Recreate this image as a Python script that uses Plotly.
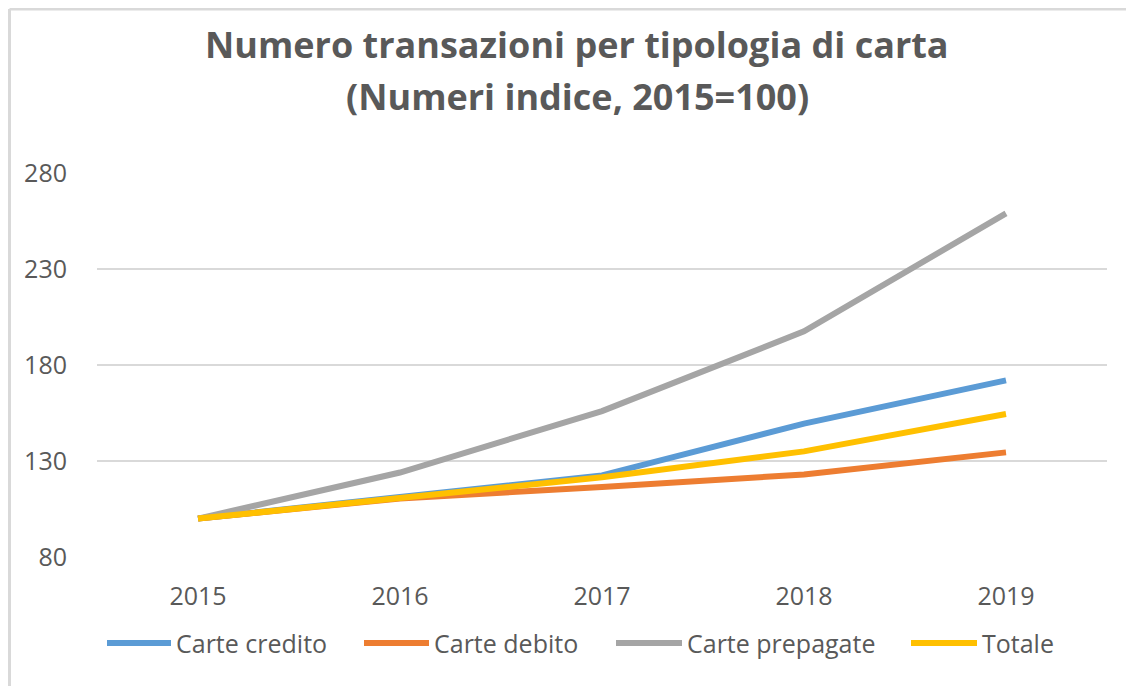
import plotly.graph_objects as go

anni = ["2015", "2016", "2017", "2018", "2019"]
carte_credito = [100, 111, 122.5, 149.5, 172]
carte_debito = [100, 110.5, 116.5, 123, 134.5]
carte_prepagate = [100, 124, 156, 197.5, 259]
totale = [100, 111, 121.5, 135, 154.5]

serie = [
    ("Carte credito", carte_credito, "#5B9BD5"),
    ("Carte debito", carte_debito, "#ED7D31"),
    ("Carte prepagate", carte_prepagate, "#A5A5A5"),
    ("Totale", totale, "#FFC000"),
]

TXT = "#595959"
FONT = "Open Sans"

fig = go.Figure()
for nome, valori, colore in serie:
    fig.add_trace(go.Scatter(
        x=anni, y=valori, name=nome, mode="lines",
        line=dict(color=colore, width=6), showlegend=False,
    ))

# page body has an 8px margin: figure drawn at (8, 8)
OFF = 8
W, H = 1126, 678
L, R, T, B = 89, 27, 165, 129
pw, ph = W - L - R, H - T - B

def px(x):  # screen x -> paper
    return (x - OFF - L) / pw

def py(y):  # screen y -> paper
    return (H - B - (y - OFF)) / ph

# custom legend (screen positions of the legend keys)
legend_keys = [(107, 171), (364, 429), (616, 682), (911, 977)]
legend_y = 643

annotations = [
    dict(text="<b>Numero transazioni per tipologia di carta</b>", x=px(577), y=py(44),
         xref="paper", yref="paper", showarrow=False, xanchor="center", yanchor="middle",
         font=dict(family=FONT, size=36, color=TXT)),
    dict(text="<b>(Numeri indice, 2015=100)</b>", x=px(577), y=py(96),
         xref="paper", yref="paper", showarrow=False, xanchor="center", yanchor="middle",
         font=dict(family=FONT, size=36, color=TXT)),
]
shapes = [
    dict(type="line", xref="paper", yref="paper", x0=px(9.5), x1=px(W + OFF), y0=py(9), y1=py(9),
         line=dict(color="#D9D9D9", width=3)),
    dict(type="line", xref="paper", yref="paper", x0=px(9.5), x1=px(9.5), y0=py(9), y1=py(H + OFF),
         line=dict(color="#D9D9D9", width=3)),
]
for (nome, _, colore), (x0, x1) in zip(serie, legend_keys):
    shapes.append(dict(type="line", xref="paper", yref="paper", x0=px(x0), x1=px(x1),
                       y0=py(legend_y), y1=py(legend_y), line=dict(color=colore, width=6)))
    annotations.append(dict(text=nome, x=px(x1 + 3), y=py(legend_y), xref="paper", yref="paper",
                            showarrow=False, xanchor="left", yanchor="middle",
                            font=dict(family=FONT, size=25, color=TXT)))

fig.update_layout(
    width=W, height=H,
    margin=dict(l=L, r=R, t=T, b=B),
    paper_bgcolor="white", plot_bgcolor="white",
    font=dict(family=FONT, color=TXT, size=25),
    xaxis=dict(
        type="category", range=[-0.5, 4.5], showgrid=False, zeroline=False,
        showline=False, ticks="outside", ticklen=17, tickcolor="rgba(0,0,0,0)",
        tickfont=dict(family=FONT, size=25, color=TXT),
    ),
    yaxis=dict(
        range=[80, 280], tickvals=[80, 130, 180, 230, 280], showgrid=True,
        gridcolor="#D9D9D9", gridwidth=2, zeroline=False, showline=False,
        ticks="outside", ticklen=24, tickcolor="rgba(0,0,0,0)",
        tickfont=dict(family=FONT, size=25, color=TXT),
    ),
    annotations=annotations,
    shapes=shapes,
)

fig.write_html("out.html")
